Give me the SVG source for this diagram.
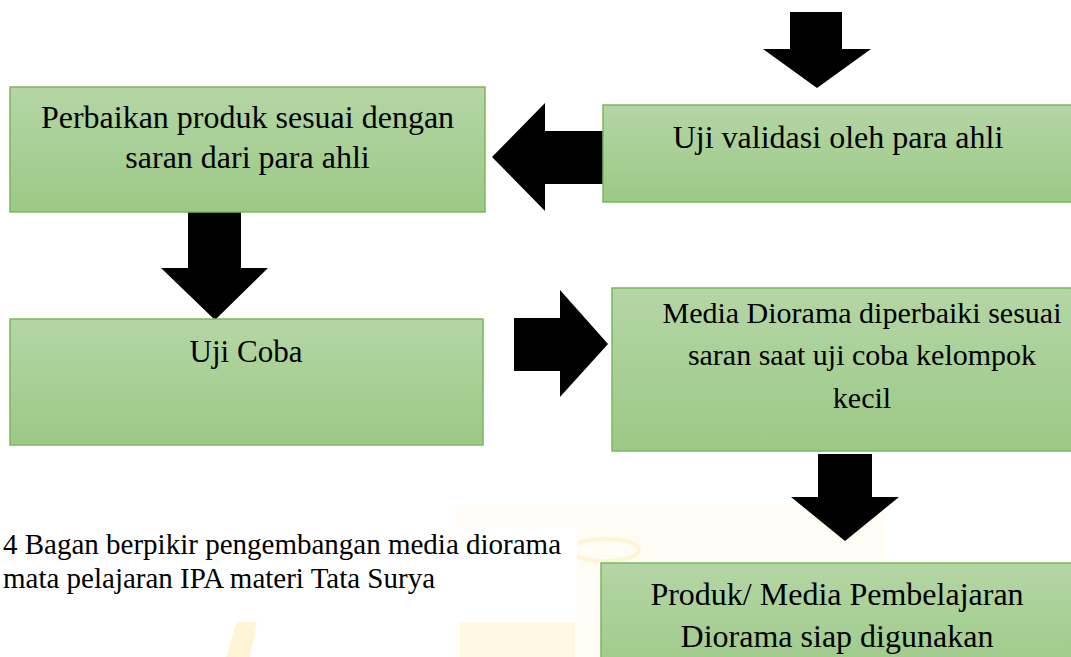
<svg xmlns="http://www.w3.org/2000/svg" width="1071" height="657" viewBox="0 0 1071 657">
<defs>
<linearGradient id="g" x1="0" y1="0" x2="0" y2="1">
<stop offset="0" stop-color="#b4d6a5"/>
<stop offset="1" stop-color="#9cc986"/>
</linearGradient>
<style>
.box{fill:url(#g);stroke:#7cb65e;stroke-width:1.5}
.t{font-family:'Liberation Serif','Tinos','DejaVu Serif',serif;font-size:32px;fill:#000;text-anchor:middle}
.t30{font-size:30px}
.t31{font-size:31px}
.cap{font-family:'Liberation Serif','Tinos','DejaVu Serif',serif;font-size:29px;fill:#000}
.arr{fill:#000}
.wm{fill:#fff5d6}
</style>
</defs>
<rect width="1071" height="657" fill="#fff"/>
<g id="watermark">
<rect x="455" y="505" width="430" height="152" fill="#fffdf5"/>
<ellipse cx="605" cy="550" rx="34" ry="11" fill="none" stroke="#fff4d4" stroke-width="4"/>
<polygon class="wm" points="226,657 244,598 262,598 250,657"/>
<rect x="460" y="622" width="115" height="35" fill="#fff8e2"/>
</g>
<g id="caption">
<rect x="0" y="527" width="577" height="95" fill="#fff"/>
<text class="cap" x="3" y="554">4 Bagan berpikir pengembangan media diorama</text>
<text class="cap" x="3" y="588">mata pelajaran IPA materi Tata Surya</text>
</g>
<g id="connectors">
<polygon class="arr" points="790,12 842,12 842,49 871,49 817,88 763,49 790,49"/>
<polygon class="arr" points="603,131 603,184 545,184 545,211 492,157 545,103 545,131"/>
<polygon class="arr" points="188,212 241,212 241,268 268,268 215,320 161,268 188,268"/>
<polygon class="arr" points="514,318 560,318 560,290 608,344 560,397 560,371 514,371"/>
<polygon class="arr" points="818,454 872,454 872,497 899,497 845,541 791,497 818,497"/>
</g>
<g id="node-perbaikan">
<rect class="box" x="10" y="87" width="475" height="125"/>
<text class="t" x="247.5" y="128">Perbaikan produk sesuai dengan</text>
<text class="t" x="247.5" y="168">saran dari para ahli</text>
</g>
<g id="node-validasi">
<rect class="box" x="603" y="105" width="470" height="97"/>
<text class="t" x="838" y="148">Uji validasi oleh para ahli</text>
</g>
<g id="node-ujicoba">
<rect class="box" x="10" y="319" width="473" height="126"/>
<text class="t t31" x="246" y="362">Uji Coba</text>
</g>
<g id="node-media">
<rect class="box" x="612" y="288" width="500" height="163"/>
<text class="t t30" x="862" y="323">Media Diorama diperbaiki sesuai</text>
<text class="t t30" x="862" y="365">saran saat uji coba kelompok</text>
<text class="t t30" x="862" y="408">kecil</text>
</g>
<g id="node-produk">
<rect class="box" x="601" y="563" width="472" height="120"/>
<text class="t" x="837" y="605">Produk/ Media Pembelajaran</text>
<text class="t" x="837" y="647">Diorama siap digunakan</text>
</g>
</svg>
